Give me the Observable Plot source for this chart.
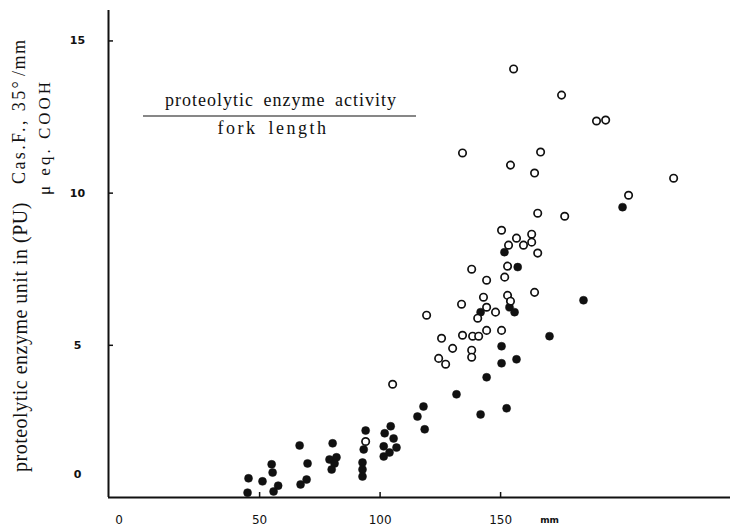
<!DOCTYPE html>
<html><head><meta charset="utf-8">
<script src="https://cdn.jsdelivr.net/npm/d3@7"></script>
<script src="https://cdn.jsdelivr.net/npm/@observablehq/plot@0.6"></script>
<style>body{margin:0;background:#fff}#chart{width:731px;height:532px}</style>
</head><body><div id="chart"></div>
<script>
// fork length (mm) and proteolytic activity (PU / mm)
const filledX = [45.0,45.4,51.2,55.0,55.4,57.7,55.8,66.6,69.9,69.5,67.0,80.3,79.0,81.9,81.1,79.9,94.0,93.2,92.7,92.7,92.7,101.9,104.4,105.6,101.5,103.9,106.8,101.5,118.0,115.5,118.5,131.7,141.7,152.5,144.2,150.4,150.4,156.6,170.3,141.7,153.7,155.8,157.1,151.6,200.6,184.4];
const filledY = [0.16,0.63,0.53,1.09,0.82,0.39,0.20,1.71,1.12,0.59,0.43,1.78,1.25,1.32,1.12,0.92,2.20,1.58,1.15,0.92,0.69,2.11,2.34,1.94,1.68,1.48,1.64,1.35,2.99,2.66,2.24,3.39,2.73,2.93,3.95,4.97,4.41,4.54,5.30,6.09,6.25,6.09,7.57,8.06,9.54,6.48];
const openX = [94.0,105.2,119.3,125.5,124.3,127.2,130.1,134.2,138.4,140.9,138.0,138.0,144.2,150.4,133.8,140.5,144.2,147.9,142.9,152.9,154.1,164.1,144.2,151.7,138.0,152.9,153.3,150.4,156.6,162.9,162.9,159.5,165.4,165.4,176.6,154.1,164.1,134.2,166.6,203.1,221.8,189.8,193.6,155.4,175.3];
const openY = [1.84,3.72,5.99,5.23,4.57,4.38,4.90,5.33,5.30,5.30,4.84,4.61,5.49,5.49,6.35,5.89,6.25,6.09,6.58,6.64,6.45,6.74,7.14,7.24,7.50,7.60,8.29,8.78,8.52,8.65,8.39,8.29,8.03,9.34,9.24,10.92,10.66,11.32,11.35,9.93,10.49,12.37,12.40,14.08,13.22];
const xTicks = [50, 100, 150];
const xZeroTick = [0];
const yTicks = [5, 10, 15];
const yZeroTick = [0];
const xUnit = "mm";
const xUnitAt = 170.3;
const xDomain = [-12.7, 245.4];
const yDomain = [0, 16];

const filled = filledX.map((x, i) => ({x, y: filledY[i]}));
const open = openX.map((x, i) => ({x, y: openY[i]}));

const ink = "#111";
const tickFont = {fontFamily: "DejaVu Sans", fontSize: 11, fontWeight: "bold"};

const chart = Plot.plot({
  width: 731, height: 532,
  marginLeft: 108, marginRight: 1, marginTop: 10, marginBottom: 35,
  x: {domain: xDomain, label: null},
  y: {domain: yDomain, label: null},
  style: {background: "#fff", color: ink},
  marks: [
    Plot.ruleX([xDomain[0]], {stroke: ink, strokeWidth: 2}),
    Plot.ruleY([yDomain[0]], {stroke: ink, strokeWidth: 2}),
    Plot.axisY(yTicks, {tickSize: 5, dx: 5, tickFormat: () => "", label: null, strokeWidth: 1.5}),
    Plot.axisY(yTicks, {tickSize: 0, tickPadding: 31, textAnchor: "middle", label: null, ...tickFont}),
    Plot.axisY(yZeroTick, {tickSize: 0, tickPadding: 31, textAnchor: "middle", dy: -23, label: null, ...tickFont}),
    Plot.axisX(xTicks, {tickSize: 5, dy: -5, tickFormat: () => "", label: null, strokeWidth: 1.5}),
    Plot.axisX(xTicks, {tickSize: 0, tickPadding: 18, label: null, ...tickFont, fontWeight: "normal", fontSize: 12}),
    Plot.axisX(xZeroTick, {tickSize: 0, tickPadding: 18, dx: -20, label: null, ...tickFont, fontWeight: "normal", fontSize: 12}),
    Plot.text([{x: xUnitAt}], {x: "x", frameAnchor: "bottom", dy: 25, text: () => xUnit, fontSize: 9, fontWeight: "bold", fontFamily: "DejaVu Sans"}),
    Plot.dot(filled, {x: "x", y: "y", r: 4, fill: ink, stroke: ink, strokeWidth: 0.5}),
    Plot.dot(open, {x: "x", y: "y", r: 3.7, fill: "#fff", stroke: ink, strokeWidth: 1.7})
  ]
});
document.getElementById("chart").appendChild(chart);

// annotations: rotated y-axis title and in-plot fraction
const svg = d3.select(chart);
const serif = "'Liberation Serif', 'Times New Roman', serif";
function rot(x, y, str, size, ls) {
  svg.append("text").attr("transform", `translate(${x},${y}) rotate(-90)`)
    .attr("text-anchor", "start")
    .attr("font-family", serif).attr("font-size", size).attr("letter-spacing", ls)
    .attr("fill", ink).text(str);
}
rot(27, 472, "proteolytic enzyme unit in (PU)", 20, 0.5);
rot(25, 184, "Cas.F., 35°", 18, 2.4);
rot(50, 195, "μ eq. COOH", 17, 3);
rot(25, 76, "/mm", 18, 1.5);

svg.append("text").attr("x", 281).attr("y", 106).attr("text-anchor", "middle")
  .attr("font-family", serif).attr("font-size", 18).attr("letter-spacing", 1).attr("word-spacing", 4)
  .attr("fill", ink).text("proteolytic enzyme activity");
svg.append("line").attr("x1", 143).attr("x2", 416).attr("y1", 116).attr("y2", 116)
  .attr("stroke", ink).attr("stroke-width", 1.2);
svg.append("text").attr("x", 273).attr("y", 134).attr("text-anchor", "middle")
  .attr("font-family", serif).attr("font-size", 18).attr("letter-spacing", 2.5).attr("word-spacing", 4)
  .attr("fill", ink).text("fork length");
</script>
</body></html>
